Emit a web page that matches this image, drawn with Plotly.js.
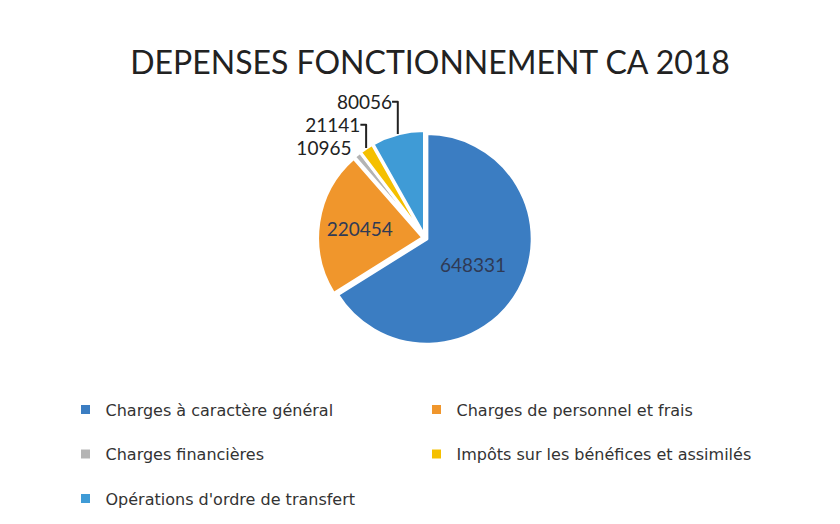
<!DOCTYPE html>
<html>
<head>
<meta charset="utf-8">
<script src="https://cdn.plot.ly/plotly-3.0.1.min.js"></script>
<style>html,body{margin:0;padding:0;background:#fff;}#chart{width:840px;height:524px;}</style>
</head>
<body>
<div id="chart"></div>
<script>
const categories = [
  "Charges à caractère général",
  "Charges de personnel et frais",
  "Charges financières",
  "Impôts sur les bénéfices et assimilés",
  "Opérations d'ordre de transfert"
];
const values = [648331, 220454, 10965, 21141, 80056];
const colors = ["#3b7dc2", "#f0962c", "#b4b4b4", "#f5c000", "#3f9bd6"];
const textPositions = ["inside", "inside", "outside", "outside", "outside"];

// legend entries get a blank second line so rows are spaced like the reference
const legendLabels = categories.map(c => c + "<br> ");

const FONT = "Lato, 'Open Sans', sans-serif";

const trace = {
  type: "pie",
  labels: legendLabels,
  values: values,
  sort: false,
  direction: "clockwise",
  rotation: 0,
  texttemplate: "%{value:.0f}",
  textposition: textPositions,
  insidetextorientation: "horizontal",
  insidetextfont: {family: FONT, size: 19, color: "#2f3a55"},
  outsidetextfont: {family: FONT, size: 19, color: "#222222"},
  marker: {colors: colors, line: {color: "#ffffff", width: 3}},
  pull: [0.02, 0.02, 0.02, 0.02, 0.02],
  hoverinfo: "value",
  domain: {x: [0.3, 0.712], y: [0.341, 0.751]}
};

const layout = {
  width: 840,
  height: 524,
  margin: {l: 0, r: 0, t: 0, b: 0, autoexpand: false},
  paper_bgcolor: "#ffffff",
  title: {
    text: "DEPENSES FONCTIONNEMENT CA 2018",
    font: {family: FONT, size: 32, color: "#222222"},
    x: 0.512, xanchor: "center", y: 0.88, yanchor: "middle"
  },
  showlegend: true,
  legend: {
    orientation: "h",
    x: 0.078, xanchor: "left",
    y: 0.251, yanchor: "top",
    entrywidth: 306,
    entrywidthmode: "pixels",
    valign: "top",
    font: {family: "'DejaVu Sans', sans-serif", size: 16, color: "#333333"},
    itemwidth: 30,
    tracegroupgap: 0
  }
};

Plotly.newPlot("chart", [trace], layout, {displayModeBar: false, staticPlot: true});
</script>
</body>
</html>
